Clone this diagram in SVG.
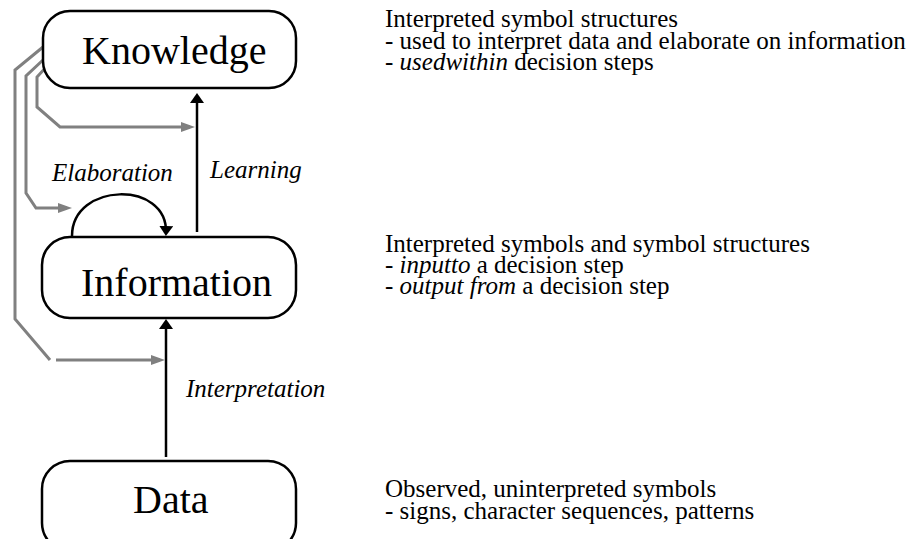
<svg xmlns="http://www.w3.org/2000/svg" width="916" height="539" viewBox="0 0 916 539">
<defs>
<style>
.box{fill:#fff;stroke:#000;stroke-width:2.5}
.lbl{font-family:"Liberation Serif","Times New Roman",serif;font-size:40px;fill:#000}
.desc{font-family:"Liberation Serif","Times New Roman",serif;font-size:25px;fill:#000}
.it{font-style:italic}
.edge{font-family:"Liberation Serif","Times New Roman",serif;font-size:25px;font-style:italic;fill:#000}
.blk{fill:none;stroke:#000;stroke-width:2.5}
.gry{fill:none;stroke:#808080;stroke-width:3}
</style>
<marker id="ab" viewBox="0 0 10 14" refX="7" refY="7" markerWidth="10" markerHeight="14" markerUnits="userSpaceOnUse" orient="auto">
<path d="M0,0 L10,7 L0,14 z" fill="#000"/>
</marker>
<marker id="ag" viewBox="0 0 14 10" refX="9" refY="5" markerWidth="14" markerHeight="10" markerUnits="userSpaceOnUse" orient="auto">
<path d="M0,0 L14,5 L0,10 z" fill="#808080"/>
</marker>
</defs>
<rect width="916" height="539" fill="#fff"/>
<g id="connectors">
<line class="blk" x1="197" y1="232" x2="197" y2="96" marker-end="url(#ab)"/>
<line class="blk" x1="166" y1="457" x2="166" y2="322" marker-end="url(#ab)"/>
<path class="blk" d="M72,236 C72,182 168,180 166,233" marker-end="url(#ab)"/>
<polyline class="gry" points="43,47 15,70 15,319 50,360"/>
<line class="gry" x1="56" y1="360" x2="160" y2="360" marker-end="url(#ag)"/>
<polyline class="gry" points="43,60 26,76 26,193 36,208 67,208" marker-end="url(#ag)"/>
<polyline class="gry" points="48,65 37,77 37,107 60,127 190,127" marker-end="url(#ag)"/>
<text class="edge" x="52" y="181">Elaboration</text>
<text class="edge" x="210" y="178">Learning</text>
<text class="edge" x="186" y="397">Interpretation</text>
</g>
<g id="knowledge">
<rect class="box" x="43" y="11" width="253" height="77" rx="27"/>
<text class="lbl" x="82" y="64">Knowledge</text>
<text class="desc" x="385" y="27">Interpreted symbol structures</text>
<text class="desc" x="385" y="49">- used to interpret data and elaborate on information</text>
<text class="desc" x="385" y="70">- <tspan class="it">usedwithin</tspan> decision steps</text>
</g>
<g id="information">
<rect class="box" x="42" y="237" width="254" height="81" rx="28"/>
<text class="lbl" x="81" y="296">Information</text>
<text class="desc" x="385" y="252">Interpreted symbols and symbol structures</text>
<text class="desc" x="385" y="273">- <tspan class="it">inputto</tspan> a decision step</text>
<text class="desc" x="385" y="294">- <tspan class="it">output from</tspan> a decision step</text>
</g>
<g id="data">
<rect class="box" x="42" y="461" width="254" height="90" rx="28"/>
<text class="lbl" x="133" y="513">Data</text>
<text class="desc" x="385" y="497">Observed, uninterpreted symbols</text>
<text class="desc" x="385" y="519">- signs, character sequences, patterns</text>
</g>
</svg>
